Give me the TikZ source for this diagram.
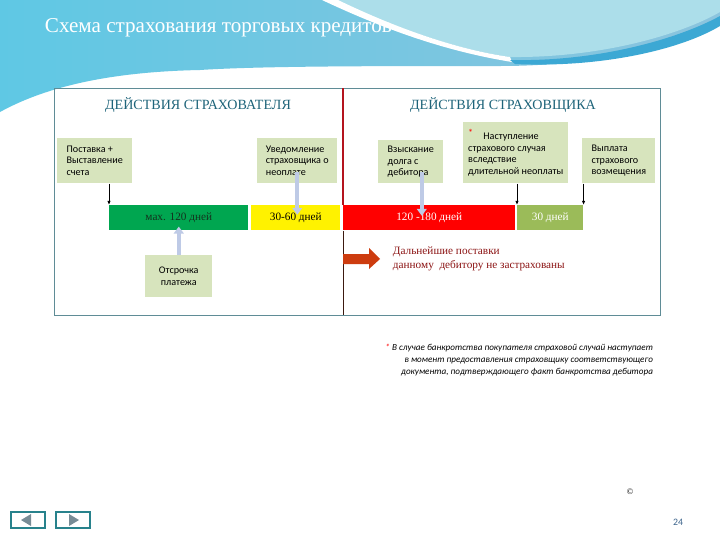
\documentclass[tikz,border=0pt]{standalone}
\usepackage{fontspec}
\setmainfont{Liberation Serif}
\setsansfont{Carlito}
\usepackage{xcolor}
\usepackage{tikz}
\usetikzlibrary{arrows.meta,calc,positioning}

\definecolor{skyA}{RGB}{95,200,228}
\definecolor{skyB}{RGB}{140,196,222}
\definecolor{skyC}{RGB}{172,222,234}
\definecolor{skyD}{RGB}{60,168,212}
\definecolor{boxgreen}{RGB}{215,228,189}
\definecolor{headteal}{RGB}{30,100,122}
\definecolor{framecol}{RGB}{95,140,150}
\definecolor{bargreen}{RGB}{0,166,80}
\definecolor{barolive}{RGB}{155,187,89}
\definecolor{darktext}{RGB}{20,50,30}
\definecolor{lavender}{RGB}{190,202,230}
\definecolor{divred}{RGB}{180,20,30}
\definecolor{divdark}{RGB}{60,25,15}
\definecolor{arrowred}{RGB}{205,60,15}
\definecolor{notered}{RGB}{140,20,20}
\definecolor{navteal}{RGB}{40,130,140}
\definecolor{navgray}{RGB}{120,140,150}
\definecolor{pagenum}{RGB}{60,100,140}

\tikzset{
  pxsize/.style 2 args={minimum width={#1*0.025cm}, minimum height={#2*0.025cm}},
  box/.style={fill=boxgreen, inner sep=0pt, align=left, anchor=north west,
    font=\sffamily\fontsize{7.2}{8.3}\selectfont},
  bar/.style={inner sep=0pt, anchor=north west, font=\fontsize{8}{9}\selectfont},
  heading/.style={text=headteal, font=\fontsize{10}{12}\selectfont},
  lavarrow/.style={draw=lavender, line width=3pt,
    -{Triangle[length=5pt,width=7pt]}},
  blkarrow/.style={draw=black, line width=0.6pt,
    -{Latex[length=3pt,width=2.5pt]}},
}

\begin{document}
\begin{tikzpicture}[x=0.025cm,y=-0.025cm]
	\useasboundingbox (0,0) rectangle (720,540);
	\fill[white] (0,0) rectangle (720,540);

	% sky band on top
	\shade[left color=skyA, right color=skyB] (0,0) -- (720,0) -- (720,25)
	  .. controls (680,45) and (600,66) .. (500,66)
	  .. controls (380,66) and (260,66) .. (200,70)
	  .. controls (100,72) and (40,90) .. (0,112) -- cycle;
	\fill[skyC] (335,0) .. controls (400,30) and (460,50) .. (510,57)
	  .. controls (600,58) and (680,35) .. (720,12) -- (720,0) -- cycle;
	\fill[white] (322,0) .. controls (390,32) and (450,52) .. (512,62)
	  -- (510,57) .. controls (460,50) and (400,30) .. (338,0) -- cycle;
	\fill[skyD] (510,60) .. controls (600,62) and (680,38) .. (720,16)
	  -- (720,26) .. controls (680,50) and (600,68) .. (515,64) -- cycle;

	\node[anchor=west, text=white, font=\fontsize{15}{17}\selectfont] (title)
	  at (40,28) {Схема страхования торговых кредитов};

	% frame
	\draw[framecol, line width=0.6pt] (54,88) rectangle (660,315);

	\node[heading] (hleft) at (198,105) {ДЕЙСТВИЯ СТРАХОВАТЕЛЯ};
	\node[heading] (hright) at (503,105) {ДЕЙСТВИЯ СТРАХОВЩИКА};

	% boxes
	\node[box, pxsize={75}{45}] (postavka) at (57,138)
	  {Поставка +\\Выставление\\счета};
	\node[box, pxsize={80}{45}] (uved) at (257,138)
	  {Уведомление\\страховщика о\\неоплате};
	\node[box, pxsize={65}{43}] (vzysk) at (378,140)
	  {Взыскание\\долга с\\дебитора};
	\node[box, pxsize={105}{61}] (nast) at (463,122)
	  {\raisebox{2pt}{\color{red}*}\quad Наступление\\страхового случая\\вследствие\\длительной неоплаты};
	\node[box, pxsize={73}{45}] (vyplata) at (582,138)
	  {Выплата\\страхового\\возмещения};
	\node[box, align=center, pxsize={67}{42}] (otsr) at (145,255)
	  {Отсрочка\\платежа};

	% time bars
	\node[bar, fill=bargreen, text=darktext, pxsize={139}{25}] (greenbar) at (109,205) {мах. 120 дней};
	\node[bar, fill=yellow, pxsize={89}{25}] (yellowbar) at (251,205) {30-60 дней};
	\node[bar, fill=red, text=white, pxsize={172}{25}] (redbar) at (343,205) {120 -180 дней};
	\node[bar, fill=barolive, text=white, pxsize={66}{25}] (olivebar) at (517,205) {30 дней};

	% divider
	\coordinate (divtop) at (343,88);
	\coordinate (divbot) at (343,315);
	\draw[divred, line width=1.1pt] (divtop) -- (redbar.north west);
	\draw[divdark, line width=0.6pt] (redbar.south west) -- (divbot);

	% arrows to the bars
	\draw[blkarrow] (postavka.south -| greenbar.north west) -- (greenbar.north west);
	\draw[blkarrow] (nast.south -| olivebar.north west) -- (olivebar.north west);
	\draw[blkarrow] (vyplata.south -| olivebar.north east) -- (olivebar.north east);
	\draw[lavarrow] ($(uved.south)+(0,-12)$) -- ($(uved.south |- yellowbar.center)+(0,-3)$);
	\draw[lavarrow] ($(vzysk.south)+(11,-12)$) -- ($(vzysk.south |- redbar.center)+(11,-2)$);
	\draw[lavarrow] (otsr.north) -- ($(otsr.north |- greenbar.south)+(0,-4)$);

	% block arrow
	\fill[arrowred] (343,254) -- (369,254) -- (369,248) -- (380,259)
	  -- (369,269) -- (369,264) -- (343,264) -- cycle;
	\node[anchor=west, align=left, text=notered, font=\fontsize{8}{9.5}\selectfont] (note)
	  at (388,259) {Дальнейшие поставки\\данному\ \ дебитору не застрахованы};

	% footnote
	\node[anchor=north east, align=right, font=\sffamily\itshape\fontsize{6.5}{8.5}\selectfont] (foot)
	  at (658,339) {{\color{red}*}\ В случае банкротства покупателя страховой случай наступает\\в момент предоставления страховщику соответствующего\\документа, подтверждающего факт банкротства дебитора};

	\node[font=\fontsize{6}{7}\selectfont] (copy) at (630,492) {©};
	\node[text=pagenum, font=\sffamily\fontsize{7}{8}\selectfont] (page) at (678,522) {24};

	% navigation buttons
	\draw[navteal, line width=1.2pt, fill=white] (11,512) rectangle (45,528);
	\fill[navgray] (21,520) -- (31,514) -- (31,526) -- cycle;
	\draw[navteal, line width=1.2pt, fill=white] (56,512) rectangle (90,528);
	\fill[navgray] (79,520) -- (69,514) -- (69,526) -- cycle;
\end{tikzpicture}
\end{document}
